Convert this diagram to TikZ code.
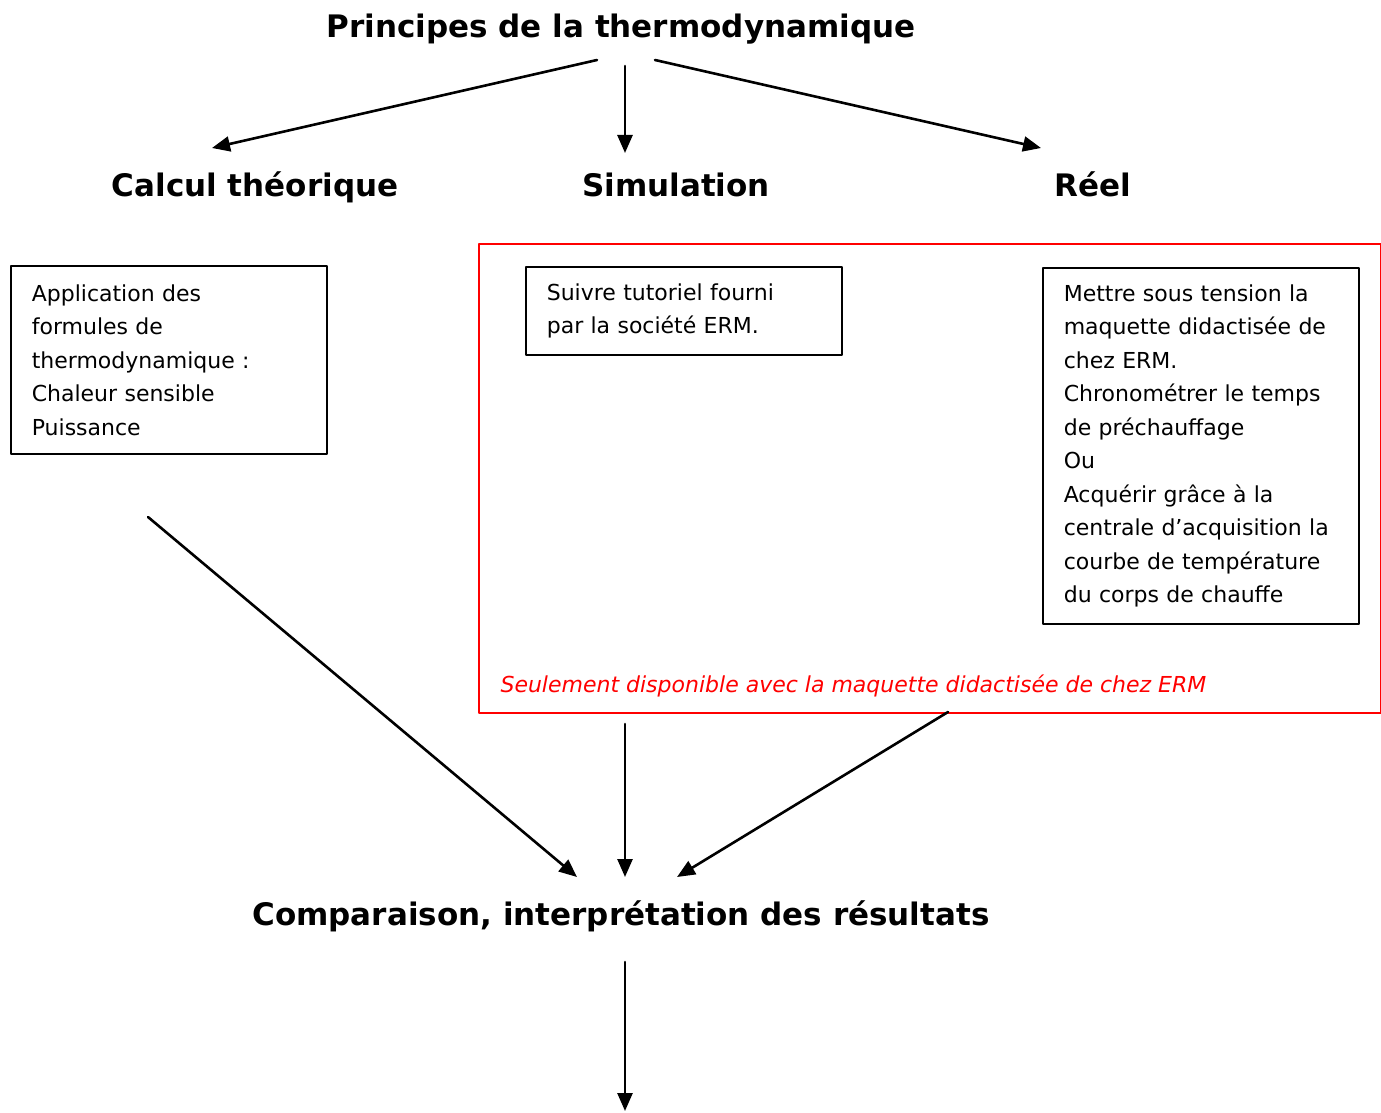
\documentclass[tikz,border=0pt]{standalone}
\usepackage{fontspec}
\setmainfont{DejaVu Sans}
\usetikzlibrary{arrows.meta}

\tikzset{
  titre/.style={anchor=base, font=\fontsize{31}{36}\selectfont\bfseries},
  boite/.style={draw, line width=1.6pt, anchor=north west, inner xsep=21pt, inner ysep=0pt,
    align=left, font=\fontsize{22}{33.5}\selectfont},
  fleche/.style={line width=2.6pt, -{Triangle[length=18pt,width=15pt]}},
}

\begin{document}
\begin{tikzpicture}[x=1pt,y=-1pt,line cap=round,line join=round]
\useasboundingbox (0,0) rectangle (1381,1113);

% titres
\node[titre] (principes) at (621,38) {Principes de la thermodynamique};
\node[titre] (calcul) at (255,196) {Calcul théorique};
\node[titre] (simu) at (676,196) {Simulation};
\node[titre] (reel) at (1093,196) {Réel};
\node[titre] (compar) at (621,925) {Comparaison, interprétation des résultats};

% cadre rouge ERM
\node[draw=red, line width=1.6pt, anchor=north west, inner sep=0pt,
  minimum width=902pt, minimum height=469pt] (erm) at (478,243) {};
\node[anchor=west, text=red, font=\fontsize{22}{26}\selectfont\itshape] (note) at (497,686)
  {Seulement disponible avec la maquette didactisée de chez ERM};

% boites
\node[boite, text width=274pt, minimum height=188pt] (bcalc) at (10,265)
  {Application des\\formules de\\thermodynamique :\\Chaleur sensible\\Puissance};
\node[boite, text width=274pt, minimum height=88pt] (bsimu) at (525,266)
  {Suivre tutoriel fourni\\par la société ERM.};
\node[boite, text width=274pt, minimum height=356pt] (breel) at (1042,267)
  {Mettre sous tension la\\maquette didactisée de\\chez ERM.\\Chronométrer le temps\\de préchauffage\\Ou\\Acquérir grâce à la\\centrale d’acquisition la\\courbe de température\\du corps de chauffe};

% points de depart et d'arrivee des fleches
\coordinate (d1) at (597,60);
\coordinate (d2) at (625,66);
\coordinate (d3) at (655,60);
\coordinate (a1) at (212,148);
\coordinate (a2) at (625,153);
\coordinate (a3) at (1041,148);
\coordinate (d4) at (148,517);
\coordinate (d5) at (625,724);
\coordinate (d6) at (948,712);
\coordinate (a4) at (577,877);
\coordinate (a5) at (625,877);
\coordinate (a6) at (677,877);
\coordinate (d7) at (625,962);
\coordinate (a7) at (625,1111);

\foreach \i in {1,...,7}
  \draw[fleche] (d\i) -- (a\i);

\end{tikzpicture}
\end{document}
